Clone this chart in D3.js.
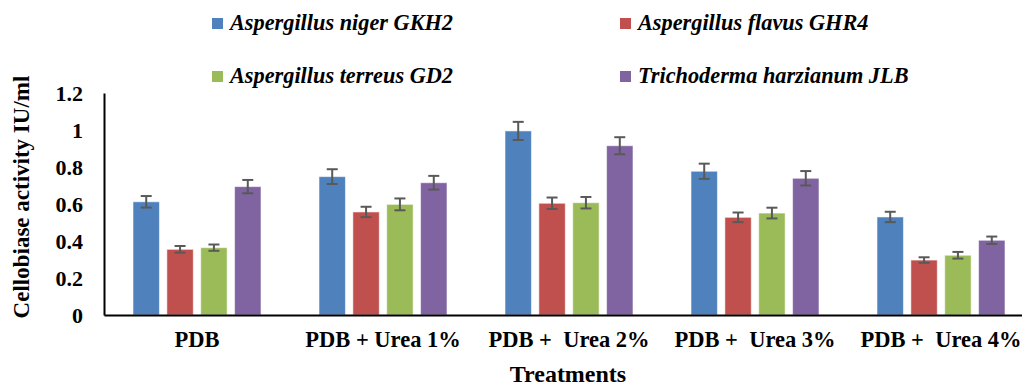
<!DOCTYPE html>
<html>
<head>
<meta charset="utf-8">
<script src="https://cdn.jsdelivr.net/npm/d3@7"></script>
<style>
  body { margin: 0; background: #fff; }
</style>
</head>
<body>
<svg id="chart" width="1022" height="385"></svg>
<script>
// Cellobiase activity by treatment, one bar per fungal strain.
const treatments = ['PDB', 'PDB + Urea 1%', 'PDB +  Urea 2%', 'PDB +  Urea 3%', 'PDB +  Urea 4%'];
const strains = ['Aspergillus niger GKH2', 'Aspergillus flavus GHR4',
                 'Aspergillus terreus GD2', 'Trichoderma harzianum JLB'];
const colors = ['#4F81BD', '#C0504D', '#9BBB59', '#8064A2'];

// values per strain, in treatment order
const nigerVals    = [0.612, 0.748, 0.995, 0.777, 0.530];
const flavusVals   = [0.355, 0.557, 0.604, 0.528, 0.297];
const terreusVals  = [0.364, 0.598, 0.607, 0.551, 0.323];
const trichoVals   = [0.694, 0.715, 0.915, 0.739, 0.404];

// standard errors
const nigerErr   = [0.031, 0.040, 0.049, 0.041, 0.028];
const flavusErr  = [0.018, 0.028, 0.031, 0.026, 0.015];
const terreusErr = [0.017, 0.032, 0.031, 0.029, 0.018];
const trichoErr  = [0.036, 0.037, 0.046, 0.039, 0.020];

const yTicks = [0, 0.2, 0.4, 0.6, 0.8, 1, 1.2];

const values = [nigerVals, flavusVals, terreusVals, trichoVals];
const errors = [nigerErr, flavusErr, terreusErr, trichoErr];

const FONT = "'Liberation Serif', 'Times New Roman', Times, serif";

const svg = d3.select('#chart');

const x0 = d3.scaleBand()
  .domain(treatments)
  .range([104, 1034])
  .paddingInner(0.312)
  .paddingOuter(0.156);

const x1 = d3.scaleBand()
  .domain(strains)
  .range([0, x0.bandwidth()])
  .paddingInner(0.22);

const y = d3.scaleLinear()
  .domain([0, 1.2])
  .range([315, 93]);

// flatten into one record per bar
const bars = [];
treatments.forEach((t, i) => {
  strains.forEach((s, j) => {
    bars.push({ t: t, s: s, j: j, v: values[j][i], e: errors[j][i] });
  });
});

const barG = svg.append('g');
barG.selectAll('rect')
  .data(bars)
  .enter().append('rect')
  .attr('x', d => x0(d.t) + x1(d.s))
  .attr('y', d => y(d.v))
  .attr('width', x1.bandwidth())
  .attr('height', d => y(0) - y(d.v))
  .attr('fill', d => colors[d.j])
  .attr('stroke', 'rgba(255,255,255,0.55)')
  .attr('stroke-width', 1);

// error bars
const errG = svg.append('g')
  .attr('stroke', '#595959')
  .attr('stroke-width', 2)
  .attr('fill', 'none');
const capHalf = 5.5;
bars.forEach(d => {
  const cx = x0(d.t) + x1(d.s) + x1.bandwidth() / 2;
  const yt = y(d.v + d.e), yb = y(d.v - d.e);
  errG.append('line').attr('x1', cx).attr('x2', cx).attr('y1', yt).attr('y2', yb);
  errG.append('line').attr('x1', cx - capHalf).attr('x2', cx + capHalf).attr('y1', yt).attr('y2', yt);
  errG.append('line').attr('x1', cx - capHalf).attr('x2', cx + capHalf).attr('y1', yb).attr('y2', yb);
});

// axes
const yAxis = svg.append('g')
  .attr('transform', 'translate(104,0)')
  .call(d3.axisLeft(y).tickValues(yTicks).tickSize(0).tickPadding(21)
    .tickFormat(d => String(+d.toFixed(1))));
yAxis.select('.domain').attr('stroke', '#000').attr('stroke-width', 2);
yAxis.selectAll('text')
  .style('font-family', FONT).style('font-weight', 'bold').style('font-size', '22px')
  .attr('fill', '#000')
  .attr('dy', '0.34em');

const xAxis = svg.append('g')
  .attr('transform', 'translate(0,315)')
  .call(d3.axisBottom(x0).tickSize(0));
xAxis.select('.domain').attr('stroke', '#000').attr('stroke-width', 2);
xAxis.selectAll('text')
  .style('font-family', FONT).style('font-weight', 'bold').style('font-size', '22.5px')
  .style('white-space', 'pre')
  .attr('fill', '#000')
  .attr('y', 32).attr('dy', 0);

// axis titles
svg.append('text')
  .attr('x', 568).attr('y', 382)
  .attr('text-anchor', 'middle')
  .style('font-family', FONT).style('font-weight', 'bold').style('font-size', '24px')
  .text('Treatments');

svg.append('text')
  .attr('transform', 'translate(29,197) rotate(-90)')
  .attr('text-anchor', 'middle')
  .style('font-family', FONT).style('font-weight', 'bold').style('font-size', '23px')
  .text('Cellobiase activity IU/ml');

// legend, two columns
const legendPos = [[212, 18], [620, 18], [212, 71], [620, 71]];
const legend = svg.append('g');
strains.forEach((s, j) => {
  const p = legendPos[j];
  legend.append('rect')
    .attr('x', p[0]).attr('y', p[1])
    .attr('width', 11).attr('height', 11)
    .attr('fill', colors[j]);
  legend.append('text')
    .attr('x', p[0] + 18).attr('y', p[1] + 12)
    .style('font-family', FONT).style('font-weight', 'bold')
    .style('font-style', 'italic').style('font-size', '22.3px')
    .text(s);
});
</script>
</body>
</html>
